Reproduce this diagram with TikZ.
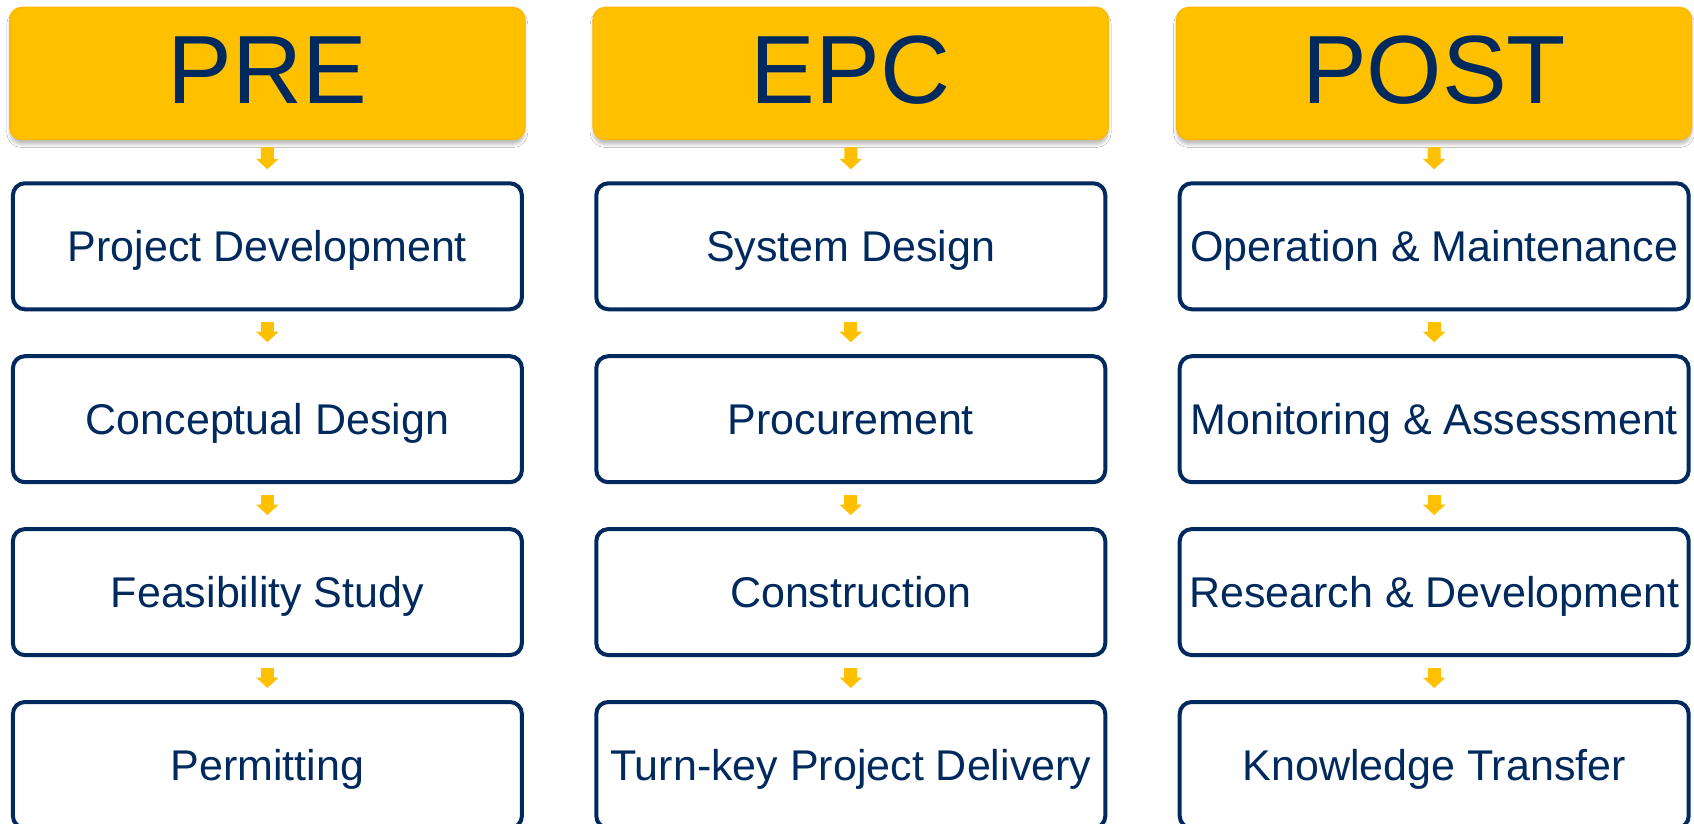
\documentclass[tikz,border=0pt]{standalone}
\usepackage{fontspec}
\setmainfont{Liberation Sans}
\usetikzlibrary{arrows.meta, shadows.blur}

\definecolor{phasegold}{HTML}{FFC000}
\definecolor{phaseedge}{HTML}{FFB700}
\definecolor{navy}{HTML}{002A5E}

\tikzset{
  phase/.style={rectangle, rounded corners=12pt, fill=phasegold, draw=phaseedge,
    line width=1.5pt, minimum width=515pt, minimum height=132pt, inner sep=0pt,
    text=navy, font=\fontsize{97}{100}\selectfont, text height=69.5pt, text depth=10pt,
    blur shadow={shadow xshift=0pt, shadow yshift=-5pt, shadow blur radius=3pt, shadow opacity=25}},
  stage/.style={rectangle, rounded corners=12pt, draw=navy, line width=4pt, fill=white,
    minimum width=509pt, minimum height=126pt, inner sep=0pt,
    text=navy, font=\fontsize{43}{50}\selectfont, text height=30.8pt, text depth=0pt},
  flow/.style={draw=phasegold, line width=13pt, -{Triangle[width=22pt,length=10.5pt]},
    shorten <=11pt, shorten >=12pt},
  topflow/.style={flow, shorten <=7pt}
}

\begin{document}
\begin{tikzpicture}[x=1pt, y=-1pt]
    \useasboundingbox[fill=white] (0,0) rectangle (1694,824);

    % PRE column nodes
    \path
    (267.3, 73.5)  node[phase] (PRE)     {PRE}
    (267.4, 246.3) node[stage] (devel)   {Project Development}
    (267.4, 419.2) node[stage] (concept) {Conceptual Design}
    (267.4, 592.1) node[stage] (feasib)  {Feasibility Study}
    (267.4, 765.0) node[stage] (permit)  {Permitting}
    ;

    % EPC column nodes
    \path
    (850.7, 73.5)  node[phase] (EPC)       {EPC}
    (850.8, 246.3) node[stage] (sysdesign) {System Design}
    (850.8, 419.2) node[stage] (procure)   {Procurement}
    (850.8, 592.1) node[stage] (construct) {Construction}
    (850.8, 765.0) node[stage] (turnkey)   {Turn-key Project Delivery}
    ;

    % POST column nodes
    \path
    (1434.1, 73.5)  node[phase] (POST)     {POST}
    (1434.2, 246.3) node[stage] (operate)  {Operation \& Maintenance}
    (1434.2, 419.2) node[stage] (monitor)  {Monitoring \& Assessment}
    (1434.2, 592.1) node[stage] (research) {Research \& Development}
    (1434.2, 765.0) node[stage] (transfer) {Knowledge Transfer}
    ;

    % PRE arrows
    \draw[topflow] (PRE) -- (devel);
    \draw[flow] (devel) -- (concept);
    \draw[flow] (concept) -- (feasib);
    \draw[flow] (feasib) -- (permit);

    % EPC arrows
    \draw[topflow] (EPC) -- (sysdesign);
    \draw[flow] (sysdesign) -- (procure);
    \draw[flow] (procure) -- (construct);
    \draw[flow] (construct) -- (turnkey);

    % POST arrows
    \draw[topflow] (POST) -- (operate);
    \draw[flow] (operate) -- (monitor);
    \draw[flow] (monitor) -- (research);
    \draw[flow] (research) -- (transfer);

\end{tikzpicture}
\end{document}
